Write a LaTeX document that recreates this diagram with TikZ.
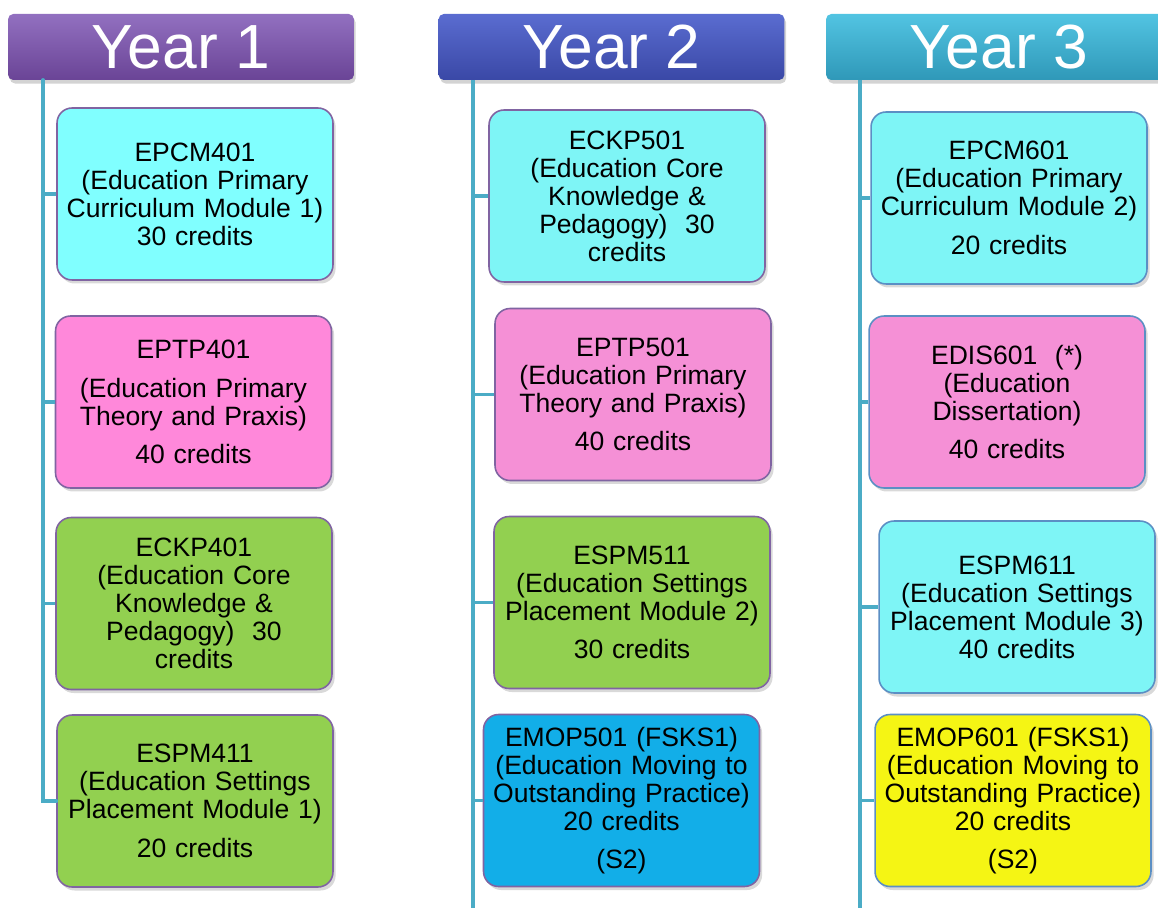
\documentclass[tikz,border=0pt]{standalone}
\usepackage{fontspec}
\setmainfont{Liberation Sans}
\usetikzlibrary{shadows}
\definecolor{spinecol}{HTML}{4BACC6}
\definecolor{yearonetop}{HTML}{9270C0}
\definecolor{yearonebot}{HTML}{6A4496}
\definecolor{yeartwotop}{HTML}{5A6CD0}
\definecolor{yeartwobot}{HTML}{3A48A6}
\definecolor{yearthreetop}{HTML}{52C4E2}
\definecolor{yearthreebot}{HTML}{2F98B8}
\definecolor{cyanA}{HTML}{80FFFF}
\definecolor{cyanB}{HTML}{7EF5F6}
\definecolor{pinkA}{HTML}{FF88DA}
\definecolor{pinkB}{HTML}{F590D6}
\definecolor{greenmod}{HTML}{92D050}
\definecolor{bluemod}{HTML}{12AEE8}
\definecolor{yellowmod}{HTML}{F5F514}
\definecolor{edgeA}{HTML}{8064A2}
\definecolor{edgeB}{HTML}{5B8FC4}

\begin{document}
\begin{tikzpicture}[x=0.02cm, y=-0.02cm,
    spine/.style={spinecol, line width=2.2pt},
    yearbox/.style={rectangle, rounded corners=3pt, minimum width=6.92cm, minimum height=1.32cm,
      text=white, font=\fontsize{35.5}{40}\selectfont, drop shadow={opacity=0.35, shadow xshift=1pt, shadow yshift=-2pt}},
    modbox/.style={rectangle, rounded corners=0.3cm, draw=edgeA, line width=0.9pt,
      minimum width=5.52cm, minimum height=3.44cm, text width=5.5cm, inner xsep=0pt, align=center,
      font=\fontsize{15.1}{15.9}\selectfont, drop shadow={opacity=0.3, shadow xshift=1.5pt, shadow yshift=-2pt}}]
    \useasboundingbox (0,0) rectangle (1158,908);

    % year headers
    \node[yearbox, top color=yearonetop, bottom color=yearonebot] (y1) at (181,47) {Year 1};
    \node[yearbox, top color=yeartwotop, bottom color=yeartwobot] (y2) at (611.5,47) {Year 2};
    \node[yearbox, top color=yearthreetop, bottom color=yearthreebot] (y3) at (999,47) {Year 3};

    \coordinate (s1) at (43,80);
    \coordinate (s2) at (473,80);
    \coordinate (s3) at (860,80);
    \coordinate (e2) at (473,908);
    \coordinate (e3) at (860,908);

    % year 1
    \node[modbox, fill=cyanA] (epcm401) at (195,194) {EPCM401\\(Education Primary\\Curriculum Module 1)\\30 credits};
    \node[modbox, fill=pinkA] (eptp401) at (193.5,402) {EPTP401\\[6pt](Education Primary\\Theory and Praxis)\\[6pt]40 credits};
    \node[modbox, fill=greenmod] (eckp401) at (194,603.5) {ECKP401\\(Education Core\\Knowledge \&\\Pedagogy)\ \ 30\\credits};
    \node[modbox, fill=greenmod] (espm411) at (195,801) {ESPM411\\(Education Settings\\Placement Module 1)\\[6pt]20 credits};

    % year 2
    \node[modbox, fill=cyanB] (eckp501) at (627,196) {ECKP501\\(Education Core\\Knowledge \&\\Pedagogy)\ \ 30\\credits};
    \node[modbox, fill=pinkB] (eptp501) at (633,394.5) {EPTP501\\(Education Primary\\Theory and Praxis)\\[6pt]40 credits};
    \node[modbox, fill=greenmod] (espm511) at (632,602.5) {ESPM511\\(Education Settings\\Placement Module 2)\\[6pt]30 credits};
    \node[modbox, fill=bluemod] (emop501) at (621.5,800.5) {EMOP501 (FSKS1)\\(Education Moving to\\Outstanding Practice)\\20 credits\\[6pt](S2)};

    % year 3
    \node[modbox, draw=edgeB, fill=cyanB] (epcm601) at (1009,198) {EPCM601\\(Education Primary\\Curriculum Module 2)\\[6pt]20 credits};
    \node[modbox, draw=edgeB, fill=pinkB] (edis601) at (1007,402) {EDIS601\ \ (*)\\(Education\\Dissertation)\\[6pt]40 credits};
    \node[modbox, draw=edgeB, fill=cyanB] (espm611) at (1017,607) {ESPM611\\(Education Settings\\Placement Module 3)\\40 credits};
    \node[modbox, draw=edgeB, fill=yellowmod] (emop601) at (1013,800.5) {EMOP601 (FSKS1)\\(Education Moving to\\Outstanding Practice)\\20 credits\\[6pt](S2)};

    % spines and branches
    \draw[spine, line cap=round] (s1) |- (espm411.west);
    \draw[spine] (s2) -- (e2);
    \draw[spine] (s3) -- (e3);
    \foreach \n in {epcm401,eptp401,eckp401}{
      \draw[spine] (s1 |- \n.west) -- (\n.west);
    }
    \foreach \n in {eckp501,eptp501,espm511,emop501}{
      \draw[spine] (s2 |- \n.west) -- (\n.west);
    }
    \foreach \n in {epcm601,edis601,espm611,emop601}{
      \draw[spine] (s3 |- \n.west) -- (\n.west);
    }
  \end{tikzpicture}
\end{document}
